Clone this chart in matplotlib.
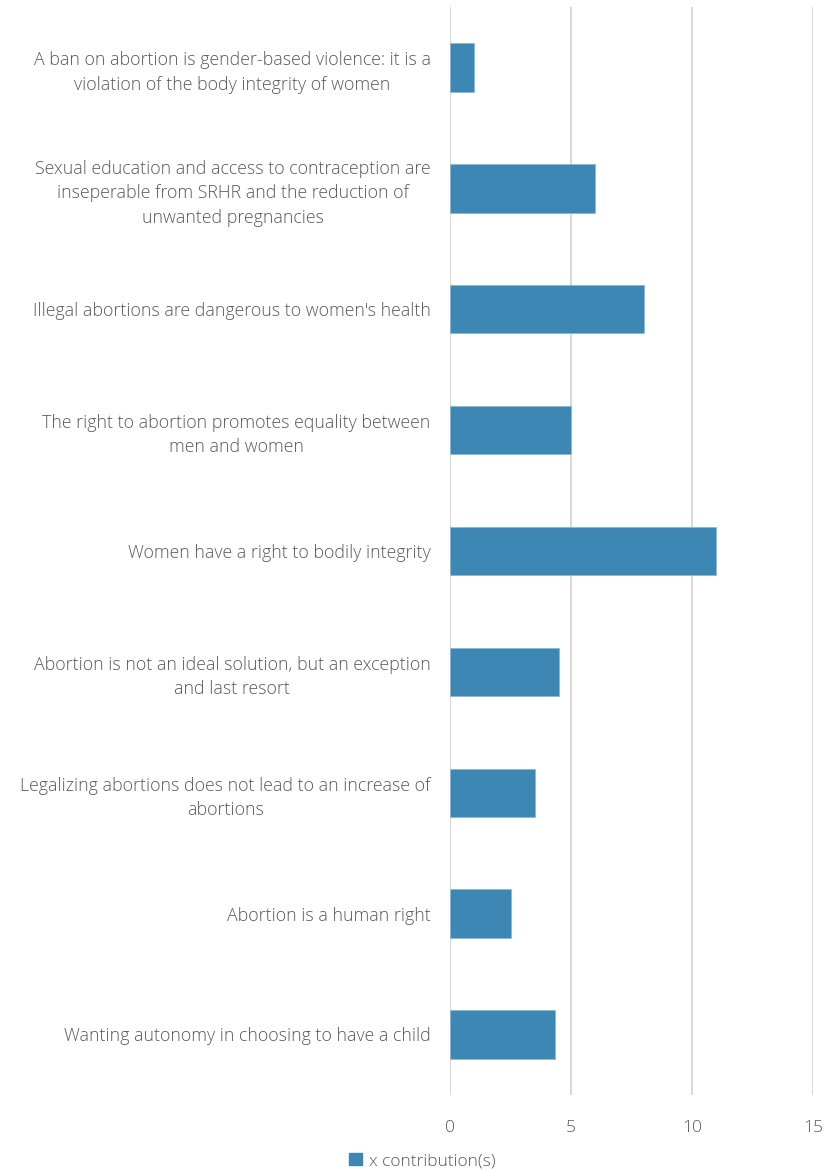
import matplotlib
matplotlib.use("Agg")
import matplotlib.pyplot as plt
from matplotlib.patches import Patch

# statements, top to bottom as shown
labels = [
    "A ban on abortion is gender-based violence: it is a\nviolation of the body integrity of women",
    "Sexual education and access to contraception are\ninseperable from SRHR and the reduction of\nunwanted pregnancies",
    "Illegal abortions are dangerous to women's health",
    "The right to abortion promotes equality between\nmen and women",
    "Women have a right to bodily integrity",
    "Abortion is not an ideal solution, but an exception\nand last resort",
    "Legalizing abortions does not lead to an increase of\nabortions",
    "Abortion is a human right",
    "Wanting autonomy in choosing to have a child",
]
values = [1.0, 6.0, 8.0, 5.0, 11.0, 4.5, 3.5, 2.5, 4.33]
ticks = [0, 5, 10, 15]
series_name = "x contribution(s)"

BAR = "#3D87B5"
GRID = "#D9D9D9"
TXT = "#595959"

plt.rcParams["font.family"] = ["Open Sans", "DejaVu Sans"]

fig = plt.figure(figsize=(8.28, 11.71), dpi=100)
ax = fig.add_axes([0.5435, 0.065, 0.4385, 0.929])

pos = list(range(len(labels)))
ax.barh(pos, values, height=0.4, color=BAR, edgecolor="#8DB9D6", linewidth=0.6, zorder=3)
ax.set_ylim(len(labels) - 0.5, -0.5)
ax.set_xlim(0, 15)

ax.set_xticks(ticks)
ax.set_xticklabels([str(t) for t in ticks], color=TXT, fontsize=12.5, fontweight="light")
ax.set_yticks(pos)
ax.set_yticklabels(labels, color=TXT, fontsize=12.8, fontweight="light",
                   multialignment="center", linespacing=1.45)
ax.tick_params(axis="both", length=0)
ax.tick_params(axis="y", pad=14)
ax.tick_params(axis="x", pad=18)

ax.grid(axis="x", color=GRID, linewidth=1.5, zorder=0)
for s in ax.spines.values():
    s.set_visible(False)

fig.legend(handles=[Patch(color=BAR, label=series_name)], loc="lower center",
           bbox_to_anchor=(0.51, -0.012), frameon=False, handlelength=0.7,
           handleheight=0.7, handletextpad=0.4,
           prop={"size": 12.5, "weight": "light"}, labelcolor=TXT)

fig.savefig("out.png", dpi=100)
